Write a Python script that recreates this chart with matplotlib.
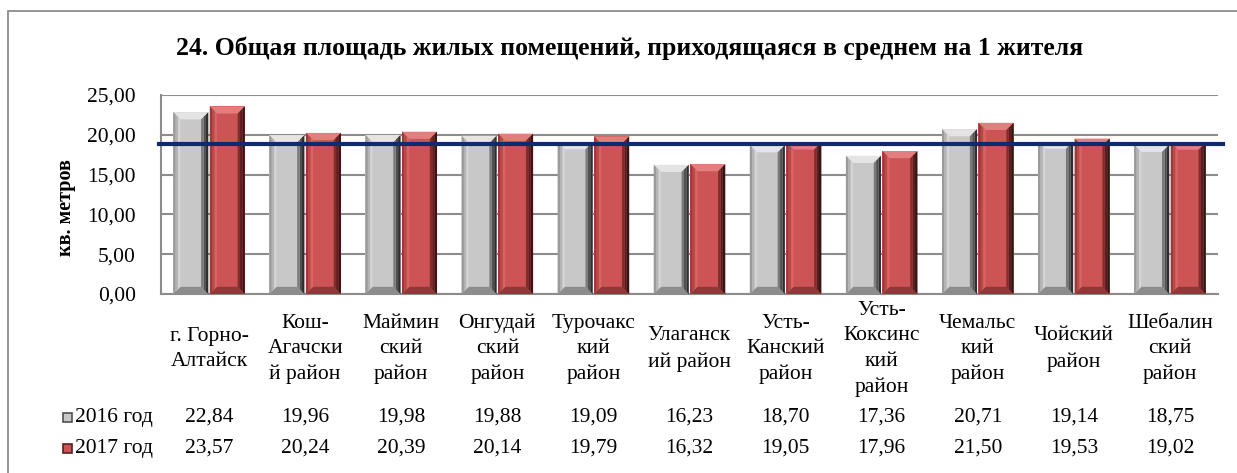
import numpy as np
import matplotlib
matplotlib.use("Agg")
import matplotlib.pyplot as plt
from matplotlib.patches import Polygon, Rectangle
from matplotlib.transforms import blended_transform_factory

plt.rcParams['font.family'] = 'serif'
plt.rcParams['font.serif'] = ['Liberation Serif', 'DejaVu Serif']

# Данные
categories = ["г. Горно-\nАлтайск", "Кош-\nАгачски\nй район", "Маймин\nский\nрайон",
              "Онгудай\nский\nрайон", "Турочакс\nкий\nрайон", "Улаганск\nий район",
              "Усть-\nКанский\nрайон", "Усть-\nКоксинс\nкий\nрайон", "Чемальс\nкий\nрайон",
              "Чойский\nрайон", "Шебалин\nский\nрайон"]
v2016 = [22.84, 19.96, 19.98, 19.88, 19.09, 16.23, 18.70, 17.36, 20.71, 19.14, 18.75]
v2017 = [23.57, 20.24, 20.39, 20.14, 19.79, 16.32, 19.05, 17.96, 21.50, 19.53, 19.02]
series_names = ["2016 год", "2017 год"]
avg_level = 18.85
title = "24. Общая площадь жилых помещений, приходящаяся в среднем на 1 жителя"
yticks = [0, 5, 10, 15, 20, 25]

# Цвета (основа, верх, левый край, правый край, низ)
styles = {
    "gray": dict(face="#c8c8c8", top="#e4e4e4", left=["#9a9a9a", "#b4b4b4", "#d4d4d4"],
                 right=["#7a7a7a", "#505050", "#2e2e2e"], bottom="#8c8c8c"),
    "red": dict(face="#cd5454", top="#e47e7e", left=["#9c3a3a", "#b84a4a", "#d86464"],
                right=["#7e2e2e", "#582020", "#3a1414"], bottom="#8e3838"),
}

fig = plt.figure(figsize=(12.37, 4.73), dpi=100)
ax = fig.add_axes([161 / 1237, 1 - 294 / 473, 1057 / 1237, 199 / 473])

# рамка вокруг всего рисунка
fig.patches.append(Rectangle((8 / 1237, -0.1), 1.2, 1 - 11 / 473 + 0.1, transform=fig.transFigure,
                             fill=False, edgecolor="#8c8c8c", lw=1.3, zorder=0))

x = np.arange(len(categories))
w = 0.365
off = 0.19


def bevel(ax, bars, st):
    dx = 0.075
    dy = 0.9
    for b in bars:
        x0 = b.get_x()
        x1 = x0 + b.get_width()
        h = b.get_height()
        ax.add_patch(Polygon([(x0, h), (x1, h), (x1 - dx, h - dy), (x0 + dx, h - dy)],
                             closed=True, fc=st["top"], ec="none", zorder=3))
        ax.add_patch(Polygon([(x0, 0), (x1, 0), (x1 - dx, dy), (x0 + dx, dy)],
                             closed=True, fc=st["bottom"], ec="none", zorder=3))
        n = len(st["left"])
        for i in range(n):
            a = dx * i / n
            c = dx * (i + 1) / n
            fa = a / dx * dy
            fc_ = c / dx * dy
            ax.add_patch(Polygon([(x0 + a, fa), (x0 + a, h - fa), (x0 + c, h - fc_), (x0 + c, fc_)],
                                 closed=True, fc=st["left"][i], ec="none", zorder=3))
            ax.add_patch(Polygon([(x1 - a, fa), (x1 - a, h - fa), (x1 - c, h - fc_), (x1 - c, fc_)],
                                 closed=True, fc=st["right"][n - 1 - i], ec="none", zorder=3))


bars1 = ax.bar(x - off, v2016, w, color=styles["gray"]["face"], zorder=2)
bars2 = ax.bar(x + off, v2017, w, color=styles["red"]["face"], zorder=2)
bevel(ax, bars1, styles["gray"])
bevel(ax, bars2, styles["red"])

ax.axhline(avg_level, xmin=-0.002, xmax=1.005, color="#0f2a6e", lw=3, zorder=5, clip_on=False)

ax.set_xlim(-0.5, len(categories) - 0.5)
ax.set_ylim(0, 25)
ax.set_yticks(yticks)
ax.set_yticklabels([f"{t:.2f}".replace(".", ",") for t in yticks], fontsize=15.5)
ax.set_xticks([])
ax.tick_params(axis="y", length=0, pad=18)
ax.grid(axis="y", color="#8c8c8c", lw=1.5, zorder=0)
for s in ["top", "right"]:
    ax.spines[s].set_visible(False)
for s in ["left", "bottom"]:
    ax.spines[s].set_color("#8c8c8c")
    ax.spines[s].set_linewidth(1.5)

fig.text(630 / 1237, 1 - 48 / 473, title, ha="center", va="center", fontsize=18.5, fontweight="bold")
fig.text(66 / 1237, 1 - 208 / 473, "кв. метров", rotation=90, ha="center", va="center",
         fontsize=14.5, fontweight="bold")

# таблица данных
tr = blended_transform_factory(ax.transData, fig.transFigure)
for i, cat in enumerate(categories):
    ax.text(x[i], 1 - 349 / 473, cat, transform=tr, ha="center", va="center",
            fontsize=15.5, linespacing=1.45, multialignment="center")
    ax.text(x[i], 1 - 417 / 473, f"{v2016[i]:.2f}".replace(".", ","), transform=tr,
            ha="center", va="center", fontsize=15.5)
    ax.text(x[i], 1 - 448 / 473, f"{v2017[i]:.2f}".replace(".", ","), transform=tr,
            ha="center", va="center", fontsize=15.5)

for yy, name, st in [(417, series_names[0], styles["gray"]), (448, series_names[1], styles["red"])]:
    fig.patches.append(Rectangle((63 / 1237, 1 - (yy + 5) / 473), 9 / 1237, 9 / 473,
                                 transform=fig.transFigure, fc=st["face"],
                                 ec=st["right"][1], lw=1.2))
    fig.text(75 / 1237, 1 - yy / 473, name, ha="left", va="center", fontsize=15.5)

fig.savefig("out.png", dpi=100)
